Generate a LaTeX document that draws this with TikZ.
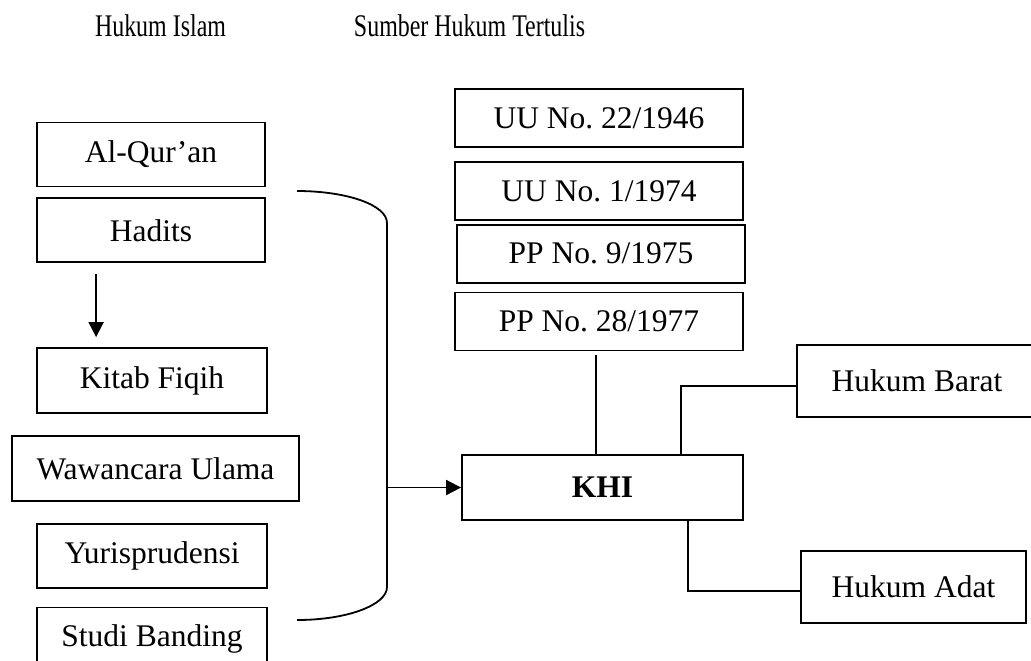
\documentclass[tikz,border=0pt]{standalone}
\usepackage{fontspec}
\setmainfont{Liberation Serif}
\usetikzlibrary{positioning,arrows.meta,calc}
\frenchspacing

\begin{document}
\begin{tikzpicture}[
	x=0.5pt,y=-0.5pt,
	box/.style={
		draw,line width=0.9pt,
		inner sep=0pt,
		text centered,
		minimum width=114pt,
		minimum height=32pt,
		font=\fontsize{15.75}{18}\selectfont,
	},
	law/.style={
		box,
		minimum width=144pt,
		minimum height=29pt,
	},
	title/.style={font=\fontsize{15.75}{18}\selectfont},
	line/.style={line width=0.9pt},
	>={Triangle[length=7.5pt,width=7.5pt]},
]
\useasboundingbox (0,0) rectangle (1031,660);

% Headings
\node [title,anchor=base] (islam) at (160.5,36) {\scalebox{0.76}[1]{Hukum Islam}};
\node [title,anchor=base] (tertulis) at (469.5,36) {\scalebox{0.76}[1]{Sumber Hukum Tertulis}};

% Hukum Islam column
\node [box] (quran) at (151,154.5) {Al-Qur'an};
\node [box,below=5pt of quran] (hadits) {Hadits};

\node [box,minimum width=115pt,minimum height=32.5pt] (fiqih) at (152,380.5) {Kitab Fiqih};
\node [box,minimum width=143.5pt,minimum height=32.5pt,
	below=10.5pt of fiqih,xshift=1.75pt] (ulama) {Wawancara Ulama};
\node [box,minimum width=115pt,below=10.5pt of ulama,xshift=-1.75pt] (yuris) {Yurisprudensi};
\node [box,minimum width=115pt,below=9pt of yuris] (banding) {Studi Banding};

% Sumber Hukum Tertulis column
\node [law] (uu22) at (599,118) {UU No. 22/1946};
\node [law,below=6.5pt of uu22] (uu1) {UU No. 1/1974};
\node [law,below=1.5pt of uu1,xshift=1pt] (pp9) {PP No. 9/1975};
\node [law,below=4pt of pp9,xshift=-1pt] (pp28) {PP No. 28/1977};

% KHI and the other sources
\node [box,minimum width=140.5pt,minimum height=32.5pt] (khi) at (602.5,487.5) {\bfseries KHI};
\node [box,minimum width=120pt,minimum height=36pt] (barat) at (917,381) {Hukum Barat};
\node [box,minimum width=112.5pt,minimum height=36pt] (adat) at (913.5,587) {Hukum Adat};

% Hadits to Kitab Fiqih
\draw [line,->] ($(hadits.south west)+(60,11)$) -- ($(fiqih.north west)+(60,-10)$);

% Bracket round the Hukum Islam sources
\coordinate (top) at (297,191);
\coordinate (bot) at (297,620);
\coordinate (brace) at (387,489);
\draw [line] (top) .. controls (347,191) and (387,205) .. (387,223)
	-- (387,587) .. controls (387,605) and (347,620) .. (bot);
\draw [line,->] (khi.west -| brace) -- (khi.west);

% Connections to KHI
\draw [line] ($(pp28.south)+(-3,4)$) -- ($(pp28.south |- khi.north)+(-3,0)$);
\draw [line] ($(khi.north)+(78.5,0)$) |- ($(barat.west)+(0,5)$);
\draw [line] ($(khi.south)+(85.5,0)$) |- ($(adat.west)+(0,4)$);

\end{tikzpicture}
\end{document}
